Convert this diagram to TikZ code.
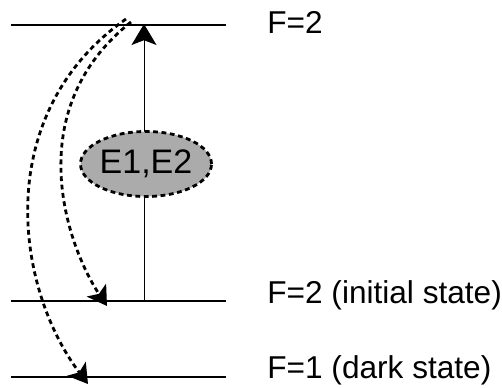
\documentclass[tikz,border=0pt]{standalone}
\usepackage{fontspec}
\setmainfont{Liberation Sans}
\usetikzlibrary{arrows.meta,shapes.geometric}
\tikzset{level/.style={line width=0.6pt},
  lbl/.style={anchor=base west,inner sep=0pt,font=\fontsize{15.8}{18}\selectfont},
  pump/.style={line width=0.5pt,-{Stealth[length=10.5pt,width=12.5pt,inset=2.4pt]}},
  decay/.style={line width=1.4pt,dash pattern=on 2.4pt off 1.8pt,-{Stealth[length=9.5pt,width=11.5pt,inset=2.2pt]}},
  coup/.style={ellipse,draw,line width=1.4pt,dash pattern=on 2.4pt off 1.8pt,fill=black!33,
    minimum width=59pt,minimum height=32.5pt,inner sep=0pt,font=\fontsize{17}{19}\selectfont}}

\begin{document}
\begin{tikzpicture}[x=0.5pt,y=-0.5pt]
\path[use as bounding box] (0,0) rectangle (502,387);
% hyperfine levels
\coordinate (up1) at (11,25);  \coordinate (up2) at (226,25);
\coordinate (in1) at (11,301); \coordinate (in2) at (226,301);
\coordinate (dk1) at (11,377); \coordinate (dk2) at (226,377);
\draw[level] (up1) -- (up2);
\draw[level] (in1) -- (in2);
\draw[level] (dk1) -- (dk2);
\node[lbl] (lup) at (267,33) {F=2};
\node[lbl] (lin) at (267,303) {F=2 (initial state)};
\node[lbl] (ldk) at (267,378) {F=1 (dark state)};
% excitation
\coordinate (p0) at (144,301); \coordinate (p1) at (144,24);
\draw[pump] (p0) -- (p1);
\node[coup] (E) at (146,164) {E1,E2};
% decay back down
\coordinate (s1) at (126,19); \coordinate (e1) at (88,384);
\coordinate (s2) at (131,22); \coordinate (e2) at (107,306);
\draw[decay] (s1) .. controls (-8,113) and (14,286) .. (e1);
\draw[decay] (s2) .. controls (19,111) and (67,246) .. (e2);
\end{tikzpicture}
\end{document}
